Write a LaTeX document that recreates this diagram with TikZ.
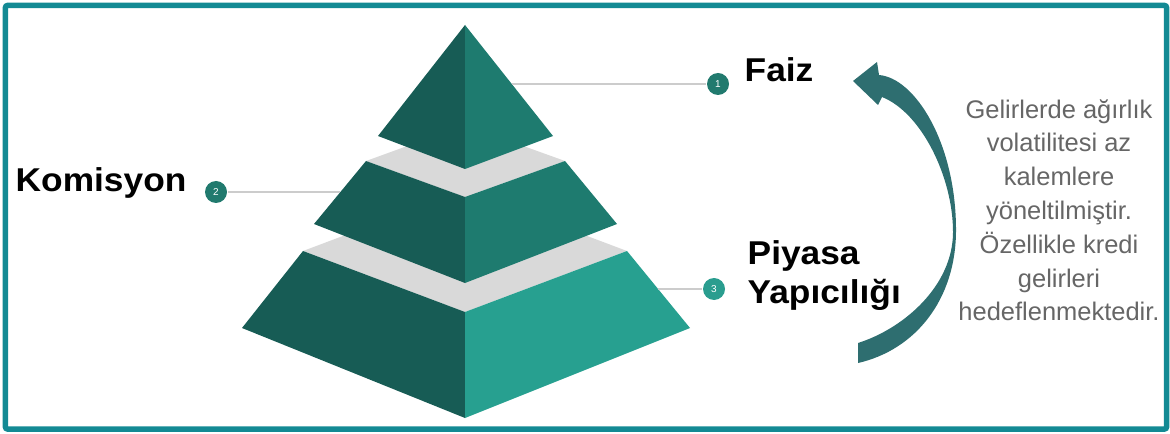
\documentclass[tikz,border=0pt]{standalone}
\usepackage{fontspec}
\setmainfont{Liberation Sans}
\newfontfamily\headfont[FakeStretch=1.07]{Liberation Sans}

\begin{document}
\begin{tikzpicture}[
    numdot/.style={circle,inner sep=0pt,minimum size=0.22cm,text=white,font=\fontsize{2.85}{3}\selectfont},
    leader/.style={line width=0.015cm,draw=r204g204b204},
    headlabel/.style={inner sep=0pt,font=\headfont\bfseries\fontsize{9.39}{11.1}\selectfont}
]
                    \useasboundingbox (0,0) rectangle (11.70,4.33);

                    % Changing color 217 217 217
                    \definecolor{r217g217b217}{rgb}{0.850980,0.850980,0.850980}%
                    \color{r217g217b217}%

                    % Filling top face of tier 3
                    \fill (3.03,1.82) -- (4.65,2.43) -- (6.27,1.82) -- (4.65,1.21) -- cycle;%

                    % Filling top face of tier 2
                    \fill (3.66,2.72) -- (4.65,3.08) -- (5.65,2.72) -- (4.65,2.36) -- cycle;%

                    % Changing color 23 92 85
                    \definecolor{r23g92b85}{rgb}{0.090196,0.360784,0.333333}%
                    \color{r23g92b85}%

                    % Filling left faces, tiers 3 2 1
                    \fill (3.03,1.82) -- (4.65,1.21) -- (4.65,0.15) -- (2.42,1.05) -- cycle;%
                    \fill (3.66,2.72) -- (4.65,2.36) -- (4.65,1.50) -- (3.14,2.09) -- cycle;%
                    \fill (4.65,4.08) -- (4.65,2.64) -- (3.78,2.97) -- cycle;%

                    % Changing color 39 160 144
                    \definecolor{r39g160b144}{rgb}{0.152941,0.627451,0.564706}%
                    \color{r39g160b144}%

                    % Filling right face of tier 3
                    \fill (4.65,1.21) -- (6.27,1.82) -- (6.90,1.05) -- (4.65,0.15) -- cycle;%

                    % Changing color 30 123 111
                    \definecolor{r30g123b111}{rgb}{0.117647,0.482353,0.435294}%
                    \color{r30g123b111}%

                    % Filling right faces, tiers 2 1
                    \fill (4.65,2.36) -- (5.65,2.72) -- (6.17,2.09) -- (4.65,1.50) -- cycle;%
                    \fill (4.65,4.08) -- (5.53,2.97) -- (4.65,2.64) -- cycle;%

                    % Changing color 0 0 0
                    \definecolor{r0g0b0}{rgb}{0.000000,0.000000,0.000000}%
                    \color{r0g0b0}%

                    % Marking points 1 2 3 by circle
                    \definecolor{r33g122b110}{rgb}{0.129412,0.478431,0.431373}%
                    \definecolor{r42g157b143}{rgb}{0.164706,0.615686,0.560784}%
                    \definecolor{r204g204b204}{rgb}{0.800000,0.800000,0.800000}%
                    \node[numdot,fill=r33g122b110] (c1) at (7.18,3.49) {1};
                    \node[numdot,fill=r33g122b110] (c2) at (2.16,2.41) {2};
                    \node[numdot,fill=r42g157b143] (c3) at (7.14,1.44) {3};

                    % Drawing leader lines
                    \coordinate (e1) at (5.12,3.49);
                    \coordinate (e2) at (3.40,2.41);
                    \coordinate (e3) at (6.58,1.44);
                    \draw [leader] (e1) -- (c1);%
                    \draw [leader] (e2) -- (c2);%
                    \draw [leader] (e3) -- (c3);%

                    % Writing labels
                    \node[headlabel,anchor=base west] (faiz) at (7.44,3.51) {Faiz};
                    \node[headlabel,anchor=base west] (komisyon) at (0.15,2.41) {Komisyon};
                    \node[headlabel,anchor=west,align=left] (piyasa) at (7.47,1.578) {Piyasa\\Yapıcılığı};

                    % Changing color 46 110 112
                    \definecolor{r46g110b112}{rgb}{0.180392,0.431373,0.439216}%
                    \color{r46g110b112}%

                    % Filling curved arrow
                    \fill (8.53,3.52) -- (8.77,3.71) -- (8.79,3.58) .. controls (9.15,3.55) and (9.56,2.90) .. (9.56,2.03) .. controls (9.56,1.33) and (9.15,0.83) .. (8.58,0.70) -- (8.58,0.90) .. controls (9.05,1.05) and (9.53,1.48) .. (9.53,2.01) .. controls (9.53,2.55) and (9.22,3.20) .. (8.82,3.36) -- (8.78,3.28) -- cycle;%

                    % Writing note
                    \definecolor{r102g102b102}{rgb}{0.400000,0.400000,0.400000}%
                    \node[inner sep=0pt,align=center,text=r102g102b102,font=\fontsize{7.25}{9.62}\selectfont] (note) at (10.59,2.228) {Gelirlerde ağırlık\\volatilitesi az\\kalemlere\\yöneltilmiştir.\\Özellikle kredi\\gelirleri\\hedeflenmektedir.};

                    % Drawing frame
                    \definecolor{r19g138b148}{rgb}{0.074510,0.541176,0.580392}%
                    \draw [line width=0.055cm,draw=r19g138b148,rounded corners=0.02cm] (0.055,0.04) rectangle (11.665,4.275);%
                    \color{black}
\end{tikzpicture}
\end{document}
